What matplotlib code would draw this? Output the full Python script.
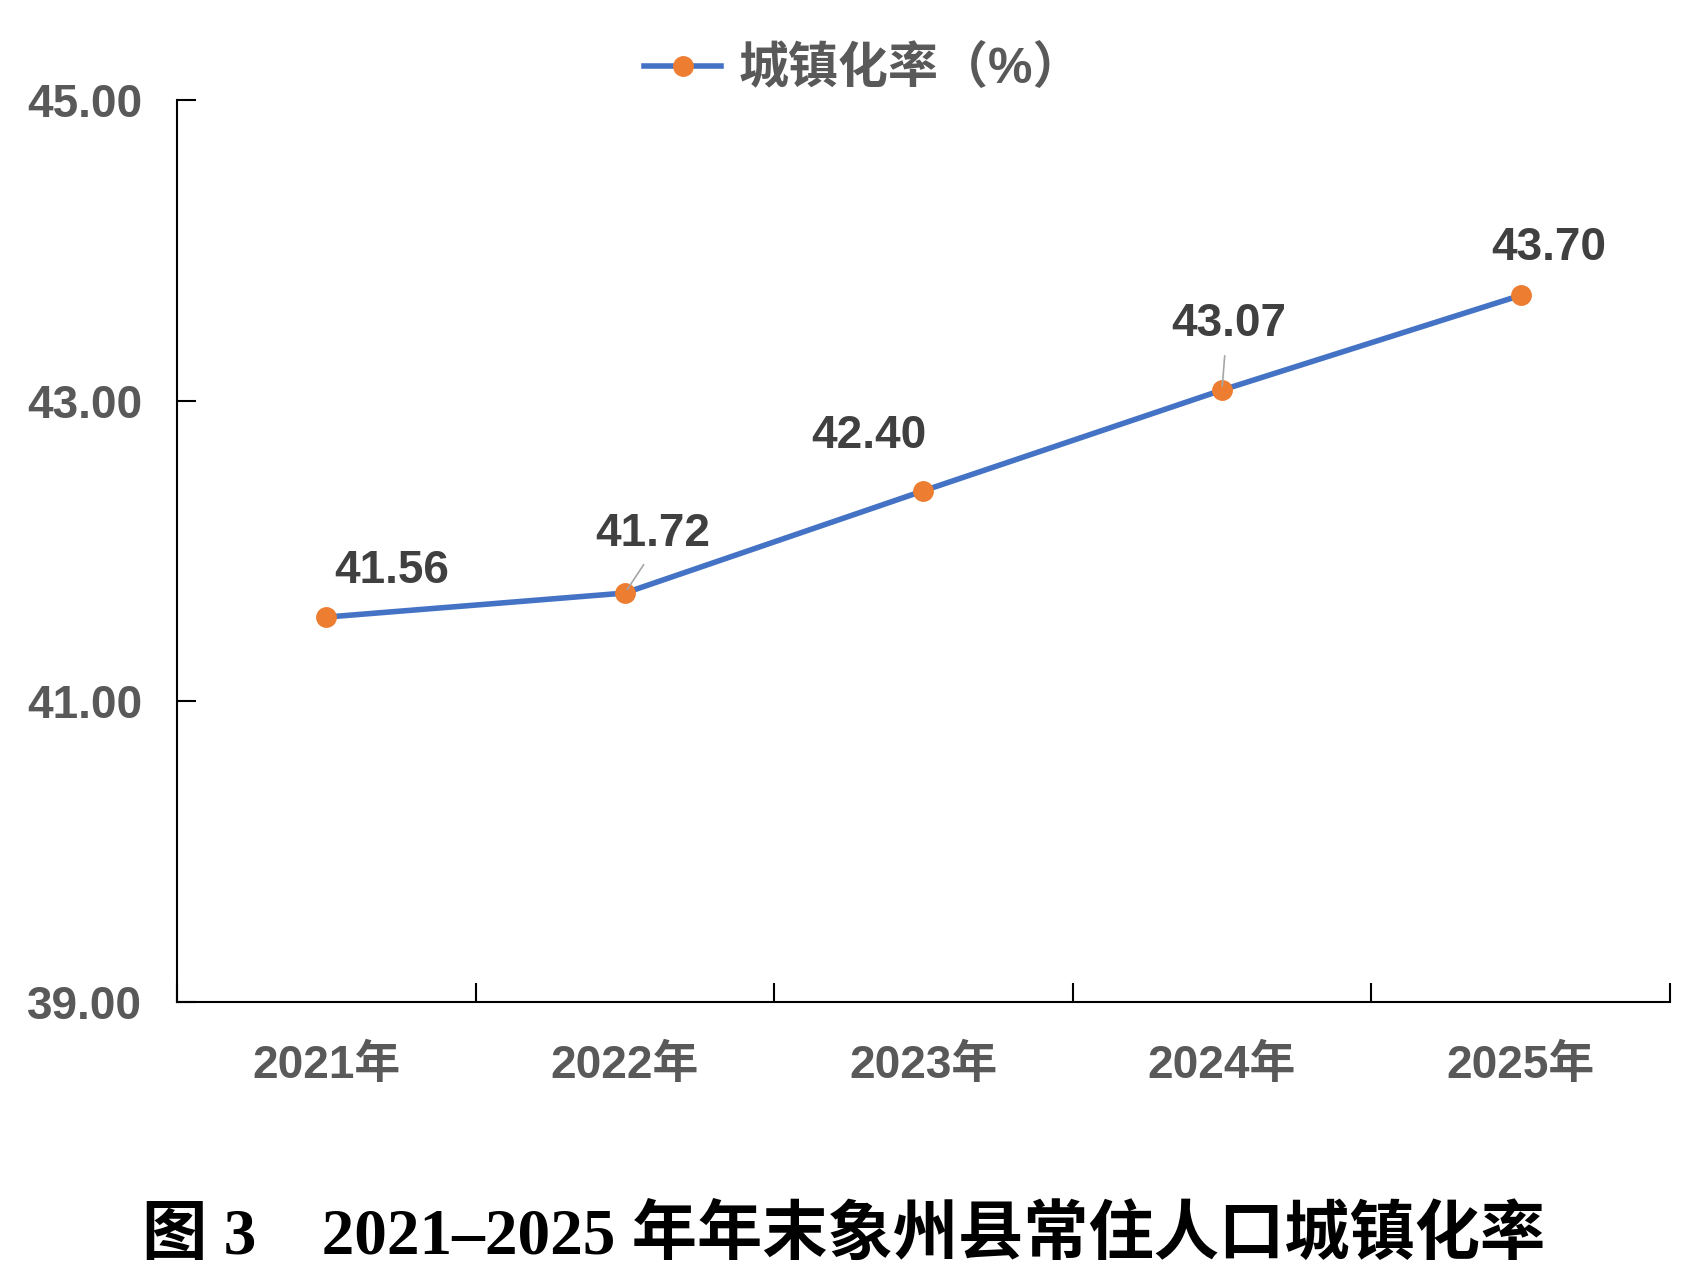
import matplotlib
matplotlib.use("Agg")
import matplotlib.pyplot as plt
from matplotlib.ticker import FixedLocator, FormatStrFormatter

# =========================================================
# 数据
# =========================================================
years = ["2021年", "2022年", "2023年", "2024年", "2025年"]
urban_rate = [41.56, 41.72, 42.40, 43.07, 43.70]
y_ticks = [39.00, 41.00, 43.00, 45.00]
legend_label = "城镇化率（%）"
caption = "图 3\u30002021–2025 年年末象州县常住人口城镇化率"

# 数据标签相对点的偏移（像素，向上为正）以及是否有引导线
label_offsets = [(65, 46), (28, 59), (-55, 55), (7, 66), (28, 47)]
label_leader = [False, True, False, True, False]

# =========================================================
# 样式
# =========================================================
LINE_COLOR = "#4472C4"
MARKER_COLOR = "#ED7D31"
TICK_TEXT = "#595959"
LABEL_TEXT = "#404040"
FONT = ["Liberation Sans", "Noto Sans CJK SC", "DejaVu Sans"]
CAPTION_FONT = ["Liberation Serif", "Noto Sans CJK SC", "DejaVu Sans"]

plt.rcParams["font.family"] = FONT

fig = plt.figure(figsize=(17.07, 12.78), dpi=100)
ax = fig.add_axes([0.1037, 0.2160, 0.8745, 0.7058])

x = list(range(len(years)))
ax.plot(x, urban_rate, color=LINE_COLOR, linewidth=4.0,
        marker="o", markersize=14, markerfacecolor=MARKER_COLOR,
        markeredgecolor=MARKER_COLOR, label=legend_label, zorder=3)

# 数据标签
for xi, yi, (dx, dy), lead in zip(x, urban_rate, label_offsets, label_leader):
    arrow = None
    if lead:
        arrow = dict(arrowstyle="-", color="#a6a6a6", lw=1.2,
                     shrinkA=5, shrinkB=3, relpos=(0.47, 0.0))
    ax.annotate(f"{yi:.2f}", xy=(xi, yi), xytext=(dx, dy),
                textcoords="offset pixels", ha="center", va="center",
                fontsize=33, fontweight="bold", color=LABEL_TEXT,
                arrowprops=arrow, zorder=4)

# 坐标轴
ax.set_xlim(-0.5, len(years) - 0.5)
ax.set_ylim(y_ticks[0], y_ticks[-1])

ax.spines["top"].set_visible(False)
ax.spines["right"].set_visible(False)
for side in ["left", "bottom"]:
    ax.spines[side].set_color("black")
    ax.spines[side].set_linewidth(1.5)

ax.yaxis.set_major_locator(FixedLocator(y_ticks))
ax.yaxis.set_major_formatter(FormatStrFormatter("%.2f"))
ax.tick_params(axis="y", direction="in", length=14, width=1.5,
               color="black", pad=25, labelsize=33, labelcolor=TICK_TEXT)

ax.set_xticks(x)
ax.set_xticklabels(years)
ax.xaxis.set_minor_locator(FixedLocator([i - 0.5 for i in range(len(years) + 1)]))
ax.tick_params(axis="x", which="major", length=0, pad=30,
               labelsize=33, labelcolor=TICK_TEXT)
ax.tick_params(axis="x", which="minor", direction="in", length=14,
               width=1.5, color="black")

for lab in ax.get_xticklabels() + ax.get_yticklabels():
    lab.set_fontweight("bold")

# 图例
leg = fig.legend(loc="center", bbox_to_anchor=(0.506, 0.946), frameon=False,
                 handlelength=1.55, handletextpad=0.35,
                 prop=dict(family=FONT, size=36, weight="bold"))
for t in leg.get_texts():
    t.set_color(TICK_TEXT)

# 图题
fig.text(0.494, 0.032, caption, ha="center", va="center", fontsize=47,
         fontweight="bold", family=CAPTION_FONT, color="black")

fig.savefig("out.png", dpi=100)
